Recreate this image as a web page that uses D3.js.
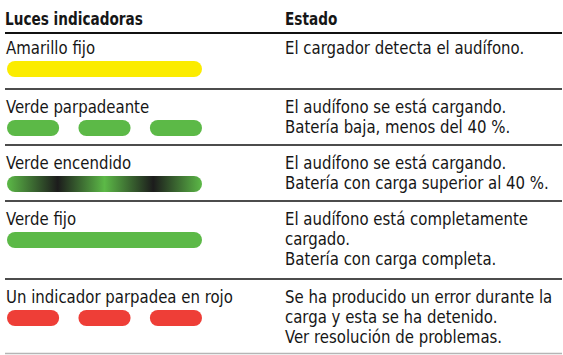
<!DOCTYPE html>
<html><head><meta charset="utf-8">
<script src="https://cdn.jsdelivr.net/npm/d3@7"></script>
<style>
html,body{margin:0;padding:0;background:#fff;}
svg{display:block;}
text{font-family:"DejaVu Sans Condensed","DejaVu Sans",sans-serif;font-stretch:condensed;fill:#161616;}
</style></head>
<body>
<script>
// ---- data ----
const headers = ["Luces indicadoras", "Estado"];
const indicators = ["Amarillo fijo", "Verde parpadeante", "Verde encendido", "Verde fijo", "Un indicador parpadea en rojo"];
const states = [
  ["El cargador detecta el audífono."],
  ["El audífono se está cargando.", "Batería baja, menos del 40 %."],
  ["El audífono se está cargando.", "Batería con carga superior al 40 %."],
  ["El audífono está completamente", "cargado.", "Batería con carga completa."],
  ["Se ha producido un error durante la", "carga y esta se ha detenido.", "Ver resolución de problemas."]
];
const lightColors = ["yellow", "green", "pulse", "green", "red"];
const lightModes = ["solid", "blink", "solid", "solid", "blink"];
const blinkSegments = [0, 1, 2];

// ---- layout ----
const W = 563, H = 355;
const colors = {yellow: "#fbec00", green: "#5cb947", red: "#ee3e37", dark: "#1c1c1c"};
const svg = d3.select("body").append("svg").attr("width", W).attr("height", H);

const defs = svg.append("defs");
const grad = defs.append("linearGradient").attr("id", "pulse").attr("x1", "0%").attr("x2", "100%");
[[0, colors.green], [0.26, colors.dark], [0.5, colors.green], [0.75, colors.dark], [1, colors.green]]
  .forEach(([o, c]) => grad.append("stop").attr("offset", o).attr("stop-color", c));

const x = d3.scaleLinear().domain([0, 1]).range([7, 202]);
const seg = d3.scaleBand().domain(blinkSegments).range([x(0), x(1)]).paddingInner(0.27).paddingOuter(0);

const left = 5, right = 562, col2 = 285;
const headerLine = 33;
const bodyScale = 0.95, headScale = 0.82;
const rowHeight = d => d.length >= 3 ? 78 : 56;
const rowTops = [];
let acc = headerLine;
states.forEach(s => { rowTops.push(acc); acc += rowHeight(s); });

// header
svg.selectAll("text.h").data(headers).join("text").attr("class", "h")
  .attr("transform", (d, i) => `translate(${i === 0 ? left : col2},25) scale(${headScale},1)`)
  .attr("font-size", 18.5).attr("font-weight", "bold").text(d => d);

svg.append("line").attr("x1", left).attr("x2", right).attr("y1", headerLine).attr("y2", headerLine)
  .attr("stroke", "#111").attr("stroke-width", 2);

const rows = svg.selectAll("g.row").data(indicators).join("g").attr("class", "row")
  .attr("transform", (d, i) => `translate(0,${rowTops[i]})`);

rows.each(function(name, i) {
  const g = d3.select(this);
  const base = i === 0 ? 21 : 24;
  g.append("text").attr("transform", `translate(${left + 1},${base}) scale(${bodyScale},1)`)
    .attr("font-size", 17.5).text(name);
  g.selectAll("text.s").data(states[i]).join("text").attr("class", "s")
    .attr("transform", (d, j) => `translate(${col2},${base + j * 20}) scale(${bodyScale},1)`)
    .attr("font-size", 17.5).text(d => d);
  const by = base + 7, bh = 16;
  const fill = lightColors[i] === "pulse" ? "url(#pulse)" : colors[lightColors[i]];
  if (lightModes[i] === "blink") {
    g.selectAll("rect").data(blinkSegments).join("rect")
      .attr("x", d => seg(d)).attr("width", seg.bandwidth())
      .attr("y", by).attr("height", bh).attr("rx", 8).attr("fill", fill);
  } else {
    g.append("rect").attr("x", x(0)).attr("width", x(1) - x(0))
      .attr("y", by).attr("height", bh).attr("rx", 8).attr("fill", fill);
  }
  const last = i === indicators.length - 1;
  const ly = rowHeight(states[i]) - (last ? 3.5 : 0);
  g.append("line").attr("x1", left).attr("x2", right).attr("y1", ly).attr("y2", ly)
    .attr("stroke", last ? "#b5b5b5" : "#111").attr("stroke-width", last ? 1.5 : 1.6);
});
</script>
</body></html>
